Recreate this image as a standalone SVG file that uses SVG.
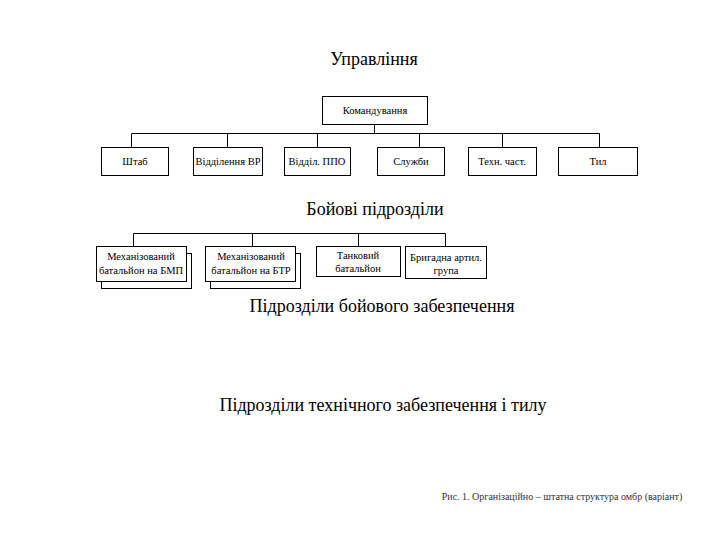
<svg xmlns="http://www.w3.org/2000/svg" width="720" height="540" viewBox="0 0 720 540">
<style>
.bx{fill:#fff;stroke:#000;stroke-width:1}
.ln{fill:none;stroke:#000;stroke-width:1}
.t{font-family:'Liberation Serif','DejaVu Serif',serif;fill:#000;text-anchor:middle}
.h{font-size:18px}
.s{font-size:10.5px}
.c{font-size:10px;fill:#333}
</style>
<rect width="720" height="540" fill="#fff"/>
<g font-family="Liberation Serif, DejaVu Serif, serif">
<text class="t h" x="374" y="65">Управління</text>
<text class="t h" x="375" y="215">Бойові підрозділи</text>
<text class="t h" x="382" y="312">Підрозділи бойового забезпечення</text>
<text class="t h" x="383" y="411">Підрозділи технічного забезпечення і тилу</text>
<text class="t c" x="562" y="500">Рис. 1. Організаційно – штатна структура омбр (варіант)</text>
</g>
<g id="connectors">
<path class="ln" d="M374.5 124V133.5M131.5 133.5H599.5M131.5 133.5V147M227.5 133.5V147M317.5 133.5V147M419.5 133.5V147M502.5 133.5V147M599.5 133.5V147"/>
<path class="ln" d="M133.5 233.5H445.5M133.5 233.5V246M252.5 233.5V246M358.5 233.5V246M445.5 233.5V246"/>
</g>
<g font-family="Liberation Serif, DejaVu Serif, serif">
<g id="n-komand"><rect class="bx" x="322.5" y="96.5" width="105" height="28"/><text class="t s" x="375" y="114">Командування</text></g>
<g id="n-shtab"><rect class="bx" x="101.5" y="147.5" width="67" height="28"/><text class="t s" x="135" y="165">Штаб</text></g>
<g id="n-vr"><rect class="bx" x="193.5" y="147.5" width="69" height="28"/><text class="t s" x="228" y="165">Відділення ВР</text></g>
<g id="n-ppo"><rect class="bx" x="284.5" y="147.5" width="66" height="28"/><text class="t s" x="317" y="165">Відділ. ППО</text></g>
<g id="n-sluzh"><rect class="bx" x="377.5" y="147.5" width="67" height="28"/><text class="t s" x="411" y="165">Служби</text></g>
<g id="n-tekh"><rect class="bx" x="468.5" y="147.5" width="68" height="28"/><text class="t s" x="502" y="165">Техн. част.</text></g>
<g id="n-tyl"><rect class="bx" x="558.5" y="147.5" width="79" height="28"/><text class="t s" x="598" y="165">Тил</text></g>
<g id="n-bmp"><rect class="bx" x="101.5" y="253.5" width="90" height="35"/><rect class="bx" x="96.5" y="246.5" width="90" height="35"/><text class="t s" x="141" y="260">Механізований</text><text class="t s" x="141" y="274">батальйон на БМП</text></g>
<g id="n-btr"><rect class="bx" x="210.5" y="253.5" width="90" height="35"/><rect class="bx" x="205.5" y="246.5" width="90" height="35"/><text class="t s" x="251" y="260">Механізований</text><text class="t s" x="251" y="274">батальйон на БТР</text></g>
<g id="n-tank"><rect class="bx" x="316.5" y="246.5" width="84" height="30"/><text class="t s" x="358" y="259">Танковий</text><text class="t s" x="358" y="272">батальйон</text></g>
<g id="n-art"><rect class="bx" x="405.5" y="246.5" width="81" height="32"/><text class="t s" x="446" y="261">Бригадна артил.</text><text class="t s" x="446" y="274">група</text></g>
</g>
</svg>
